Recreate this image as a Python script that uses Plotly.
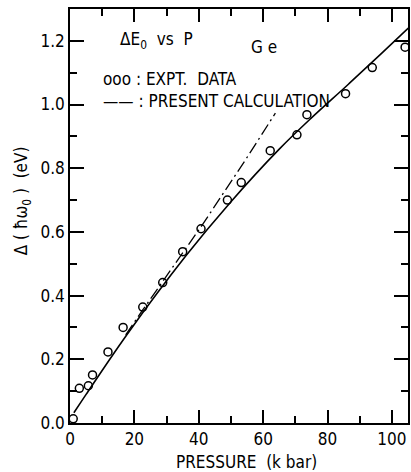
import plotly.graph_objects as go

# Experimental data (pressure kbar, delta eV)
expt_p = [1, 2.9, 5.7, 7.0, 11.8, 16.5, 22.6, 28.8, 35.0, 40.7, 48.9, 53.2, 62.2, 70.5, 73.6, 85.6, 93.9, 104.1]
expt_e = [0.013, 0.109, 0.117, 0.151, 0.223, 0.300, 0.364, 0.441, 0.538, 0.610, 0.700, 0.755, 0.855, 0.905, 0.968, 1.034, 1.116, 1.180]

# Solid curve
solid_p = [1.2, 5.0, 17.5, 36.0, 50.0, 65.0, 75.0, 86.4, 96.7, 105.1]
solid_e = [0.032, 0.090, 0.275, 0.525, 0.695, 0.860, 0.958, 1.063, 1.160, 1.240]

# Dash-dot curve (present calculation)
calc_p = [17.3, 22.6, 41.1, 54.5, 63.8]
calc_e = [0.277, 0.355, 0.622, 0.826, 0.973]

x_ticks = [0, 20, 40, 60, 80, 100]
y_ticks = [0.0, 0.2, 0.4, 0.6, 0.8, 1.0, 1.2]
y_labels = ["0.0", "0.2", "0.4", "0.6", "0.8", "1.0", "1.2"]

FONT = "Liberation Sans Narrow, DejaVu Sans Condensed, Arial Narrow, sans-serif"

fig = go.Figure()
fig.add_trace(go.Scatter(x=solid_p, y=solid_e, mode="lines", line=dict(color="black", width=1.6),
                         line_shape="spline", hoverinfo="skip"))
fig.add_trace(go.Scatter(x=calc_p, y=calc_e, mode="lines", line=dict(color="black", width=1.3, dash="12px,4px,2px,4px"),
                         hoverinfo="skip"))
fig.add_trace(go.Scatter(x=expt_p, y=expt_e, mode="markers",
                         marker=dict(symbol="circle-open", size=8, color="black", line=dict(width=1.5)),
                         cliponaxis=False))

axis_common = dict(showline=True, linecolor="black", linewidth=1.5, mirror="ticks", ticks="inside",
                   tickcolor="black", tickwidth=1.5, showgrid=False, zeroline=False,
                   tickfont=dict(family=FONT, size=17, color="black"))

fig.update_xaxes(range=[0, 105], tickvals=x_ticks, ticklen=13,
                 minor=dict(dtick=10, tick0=0, ticks="inside", ticklen=7, tickcolor="black", tickwidth=1.5),
                 **axis_common)
fig.update_yaxes(range=[0, 1.30], tickvals=y_ticks, ticktext=y_labels, ticklen=14,
                 minor=dict(dtick=0.1, tick0=0, ticks="inside", ticklen=7, tickcolor="black", tickwidth=1.5),
                 **axis_common)

ann_font = dict(family=FONT, size=17, color="black")
W, H = 340, 414
def px(x):
    return (x - 70) / W
def py(y):
    return (423 - y) / H

# axis titles
fig.add_annotation(xref="paper", yref="paper", x=px(248), y=py(462), xanchor="center", yanchor="middle",
                   text="PRESSURE  (k bar)", showarrow=False, font=ann_font)
fig.add_annotation(xref="paper", yref="paper", x=px(23), y=py(201), xanchor="center", yanchor="middle",
                   text="Δ ( ħω<sub>0</sub> )  (eV)", textangle=-90, showarrow=False, font=ann_font)

fig.add_annotation(xref="paper", yref="paper", x=px(118), y=py(40), xanchor="left", yanchor="middle",
                   text="ΔE<sub>0</sub>  vs  P", showarrow=False, font=ann_font)
fig.add_annotation(xref="paper", yref="paper", x=px(265), y=py(47), xanchor="center", yanchor="middle",
                   text="G e", showarrow=False, font=ann_font)
fig.add_annotation(xref="paper", yref="paper", x=px(101), y=py(79), xanchor="left", yanchor="middle",
                   text="ooo : EXPT.  DATA", showarrow=False, font=ann_font)
fig.add_annotation(xref="paper", yref="paper", x=px(101), y=py(101), xanchor="left", yanchor="middle",
                   text="—— : PRESENT CALCULATION", showarrow=False, font=ann_font)

fig.update_layout(width=411, height=472, margin=dict(l=70, r=1, t=9, b=49),
                  plot_bgcolor="white", paper_bgcolor="white", showlegend=False)

fig.write_html("out.html")
